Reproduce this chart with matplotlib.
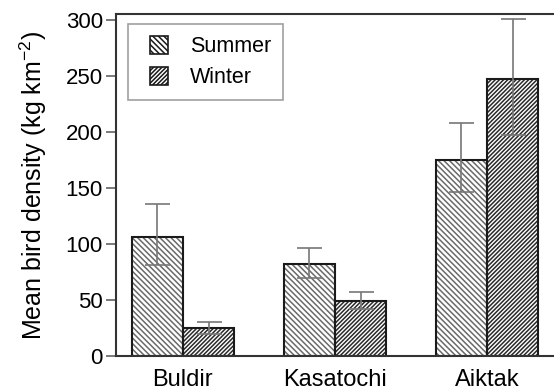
import matplotlib
matplotlib.use("Agg")
import matplotlib.pyplot as plt
from matplotlib.patches import Patch, Rectangle
from matplotlib.legend_handler import HandlerPatch
import numpy as np

plt.rcParams['font.family'] = ['Liberation Sans', 'DejaVu Sans']
plt.rcParams['mathtext.fontset'] = 'custom'
plt.rcParams['mathtext.rm'] = 'Liberation Sans'
plt.rcParams['mathtext.it'] = 'Liberation Sans:italic'
plt.rcParams['hatch.linewidth'] = 1.1

# colonies and mean bird density (kg km-2)
sites = ['Buldir', 'Kasatochi', 'Aiktak']
summer = [106, 82, 175]
winter = [25, 49, 247]
# upper / lower extents of the error bars
summer_hi = [136, 96, 208]
summer_lo = [81, 70, 146]
winter_hi = [30, 57, 301]
winter_lo = [20, 42, 197]

x = np.arange(len(sites))
w = 0.337

fig = plt.figure(figsize=(5.54, 3.92), dpi=100)
ax = fig.add_axes([0.2094, 0.0918, 0.7906, 0.8724])

s_err = [np.array(summer) - np.array(summer_lo), np.array(summer_hi) - np.array(summer)]
w_err = [np.array(winter) - np.array(winter_lo), np.array(winter_hi) - np.array(winter)]

# hatch fill first (hatch takes the edge colour), then a dark outline on top
ax.bar(x - w/2, summer, w, color='white', edgecolor='#6a6a6a', hatch='\\' * 6,
       linewidth=0)
ax.bar(x + w/2, winter, w, color='white', edgecolor='#2a2a2a', hatch='/' * 8,
       linewidth=0)
ax.bar(x - w/2, summer, w, fill=False, edgecolor='#1a1a1a', linewidth=1.5)
ax.bar(x + w/2, winter, w, fill=False, edgecolor='#1a1a1a', linewidth=1.5)

ax.errorbar(x - w/2, summer, yerr=s_err, fmt='none', ecolor='#777777',
            elinewidth=1.2, capsize=9, capthick=1.2)
ax.errorbar(x + w/2, winter, yerr=w_err, fmt='none', ecolor='#777777',
            elinewidth=1.2, capsize=9, capthick=1.2)

ax.set_xlim(-0.44, 2.44)
ax.set_ylim(0, 305)
ax.set_yticks([0, 50, 100, 150, 200, 250, 300])
ax.set_xticks(x)
ax.set_xticklabels(sites, fontsize=17)
ax.tick_params(axis='x', length=0, pad=9)
ax.tick_params(axis='y', length=7.5, width=1.1, labelsize=16, color='#555555', pad=2)
ax.set_ylabel('Mean bird density (kg km$^{-2}$)', fontsize=18, labelpad=12)

ax.spines['right'].set_visible(False)
for side in ['left', 'top', 'bottom']:
    ax.spines[side].set_linewidth(1.5)
    ax.spines[side].set_color('#333333')


# small square swatch sitting at the right end of the handle box
def square_swatch(legend, orig_handle, xdescent, ydescent, width, height, fontsize):
    size = 18 * 72 / fig.dpi
    return Rectangle((width - size - xdescent, (height - size) / 2 - ydescent), size, size)


handles = [Patch(facecolor='white', edgecolor='#1a1a1a', hatch='\\' * 6, linewidth=1.2),
           Patch(facecolor='white', edgecolor='#1a1a1a', hatch='/' * 8, linewidth=1.2)]
leg = ax.legend(handles, ['Summer', 'Winter'], loc='upper left',
                bbox_to_anchor=(0.027, 0.971), fontsize=15.5,
                handler_map={Patch: HandlerPatch(patch_func=square_swatch)},
                fancybox=False, edgecolor='#888888', handlelength=1.33,
                handleheight=0.9, borderpad=0.55, labelspacing=0.45,
                handletextpad=1.0, borderaxespad=0)
leg.get_frame().set_linewidth(1.2)

fig.savefig('out.png', dpi=100)
